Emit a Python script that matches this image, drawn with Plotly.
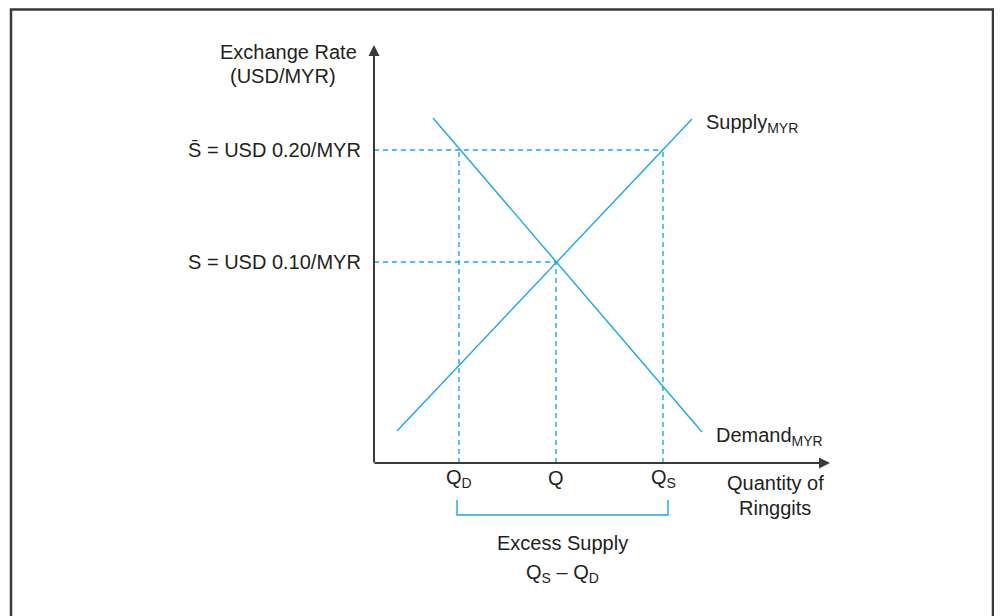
import plotly.graph_objects as go

# ---- data (schematic units; axis origin at 0,0) ----
supply_x = [0.23, 3.18]
supply_y = [0.32, 3.44]
demand_x = [0.59, 3.28]
demand_y = [3.45, 0.31]

q_labels = ["Q<sub>D</sub>", "Q", "Q<sub>S</sub>"]
q_values = [0.85, 1.82, 2.89]          # Q_D, Q (equilibrium), Q_S
rate_labels = ["S\u0304 = USD 0.20/MYR", "S = USD 0.10/MYR"]
rate_values = [3.13, 2.01]             # pegged rate, equilibrium rate
q_rate = [3.13, 2.01, 3.13]            # height of each vertical guide

x_axis_end = 4.56
y_axis_end = 4.18
bracket_x = [0.83, 2.94]
bracket_y = [-0.37, -0.52]

BLUE = "#1ba8e2"
DARK = "#3a3a3a"
TXT = "#231f20"
FONT = "Liberation Sans, Arial, sans-serif"

fig = go.Figure()

# demand & supply
fig.add_trace(go.Scatter(x=supply_x, y=supply_y, mode="lines",
                         line=dict(color=BLUE, width=1.4), hoverinfo="skip"))
fig.add_trace(go.Scatter(x=demand_x, y=demand_y, mode="lines",
                         line=dict(color=BLUE, width=1.4), hoverinfo="skip"))

DASH = dict(color=BLUE, width=1.4, dash="5px,4px")
# horizontal dashed guides
for r, qx in zip(rate_values, [q_values[2], q_values[1]]):
    fig.add_trace(go.Scatter(x=[0, qx], y=[r, r], mode="lines",
                             line=DASH, hoverinfo="skip"))
# vertical dashed guides
for qx, top in zip(q_values, q_rate):
    fig.add_trace(go.Scatter(x=[qx, qx], y=[0, top], mode="lines",
                             line=DASH, hoverinfo="skip"))

# bracket
fig.add_trace(go.Scatter(x=[bracket_x[0], bracket_x[0], bracket_x[1], bracket_x[1]],
                         y=[bracket_y[0], bracket_y[1], bracket_y[1], bracket_y[0]],
                         mode="lines", line=dict(color=BLUE, width=1.4),
                         hoverinfo="skip"))

# axes with arrows
fig.add_annotation(x=x_axis_end, y=0, ax=-0.01, ay=0, xref="x", yref="y",
                   axref="x", ayref="y", showarrow=True, arrowhead=2,
                   arrowsize=1.1, arrowwidth=2, arrowcolor=DARK, text="")
fig.add_annotation(x=0, y=y_axis_end, ax=0, ay=-0.01, xref="x", yref="y",
                   axref="x", ayref="y", showarrow=True, arrowhead=2,
                   arrowsize=1.1, arrowwidth=2, arrowcolor=DARK, text="")

font = dict(family=FONT, size=20, color=TXT)

# y-axis title
fig.add_annotation(x=-0.86, y=4.11, text="Exchange Rate", showarrow=False,
                   font=font, xanchor="center", yanchor="middle")
fig.add_annotation(x=-0.91, y=3.87, text="(USD/MYR)", showarrow=False,
                   font=font, xanchor="center", yanchor="middle")

# rate labels
for lab, r in zip(rate_labels, rate_values):
    fig.add_annotation(x=-0.11, y=r, text=lab, showarrow=False, font=font,
                       xanchor="right", yanchor="middle")

# quantity labels
for lab, qx in zip(q_labels, q_values):
    fig.add_annotation(x=qx, y=-0.15, text=lab, showarrow=False, font=font,
                       xanchor="center", yanchor="middle")

fig.add_annotation(x=4.01, y=-0.20, text="Quantity of", showarrow=False,
                   font=font, xanchor="center", yanchor="middle")
fig.add_annotation(x=4.01, y=-0.45, text="Ringgits", showarrow=False,
                   font=font, xanchor="center", yanchor="middle")

fig.add_annotation(x=3.30, y=3.40, text="Supply<sub>MYR</sub>", showarrow=False,
                   font=font, xanchor="left", yanchor="middle")
fig.add_annotation(x=3.40, y=0.27, text="Demand<sub>MYR</sub>", showarrow=False,
                   font=font, xanchor="left", yanchor="middle")

fig.add_annotation(x=1.88, y=-0.80, text="Excess Supply", showarrow=False,
                   font=font, xanchor="center", yanchor="middle")
fig.add_annotation(x=1.88, y=-1.10, text="Q<sub>S</sub> \u2013 Q<sub>D</sub>",
                   showarrow=False, font=font, xanchor="center", yanchor="middle")

# outer frame (page is offset by the 8px body margin)
fig.add_shape(type="rect", xref="paper", yref="paper",
              x0=3 / 1002, x1=985 / 1002, y0=-0.2, y1=1 - 1.5 / 616,
              line=dict(color=DARK, width=2.5), layer="below")

fig.update_layout(
    width=1002, height=616,
    margin=dict(l=0, r=0, t=0, b=0),
    paper_bgcolor="white", plot_bgcolor="white",
    showlegend=False,
    xaxis=dict(range=[-3.66, 6.36], visible=False, fixedrange=True),
    yaxis=dict(range=[-1.61, 4.55], visible=False, fixedrange=True),
)

fig.write_html("out.html")
